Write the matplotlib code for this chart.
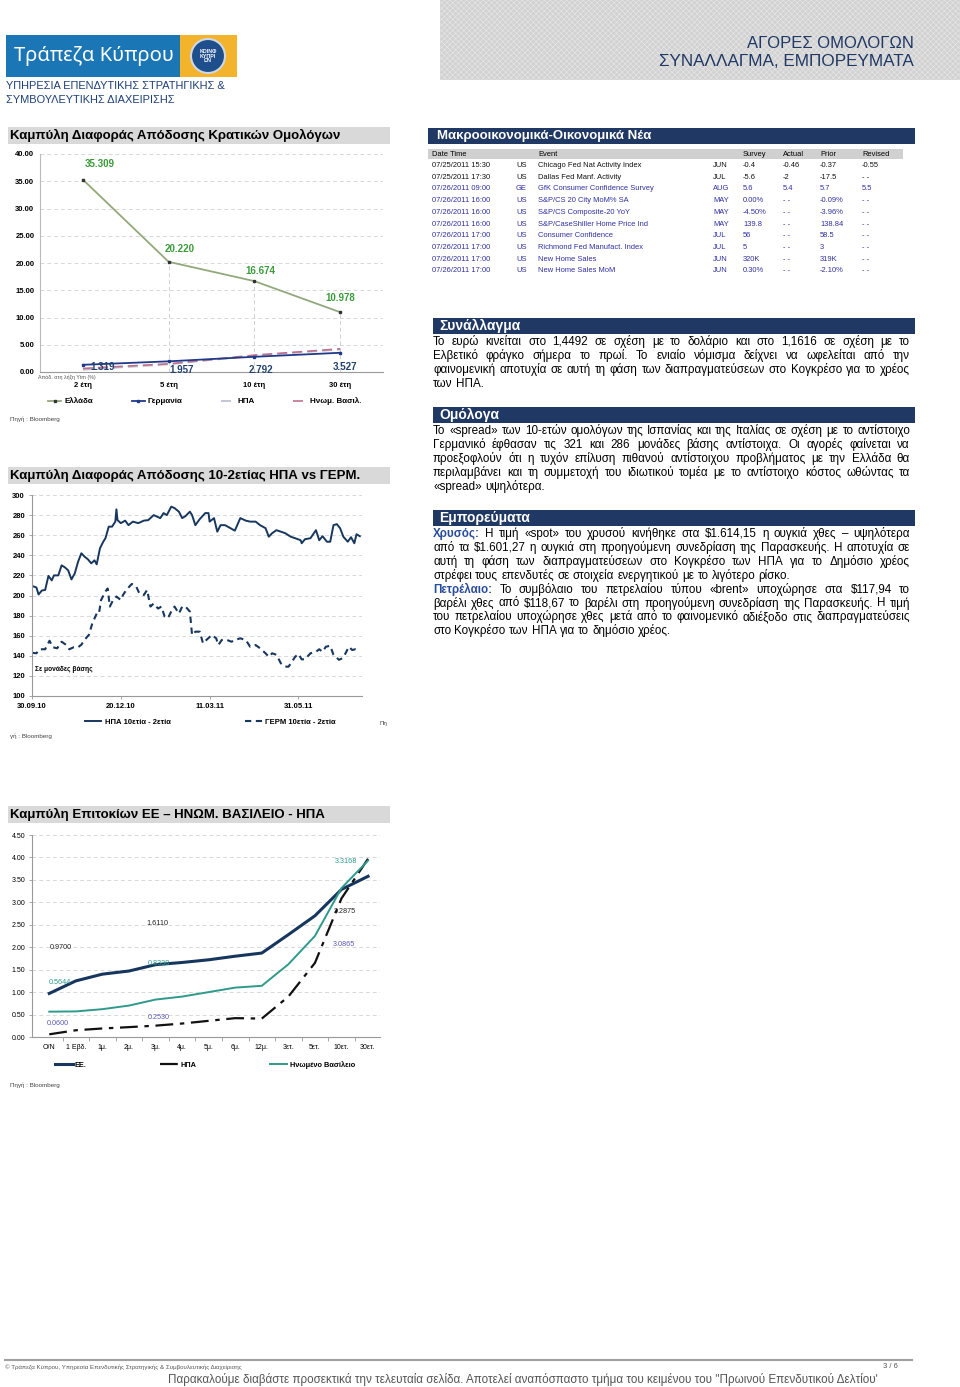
import numpy as np
import pandas as pd
import matplotlib
matplotlib.use("Agg")
import matplotlib.pyplot as plt
from matplotlib.patches import Rectangle, Circle

plt.rcParams['font.family'] = ['Liberation Sans', 'DejaVu Sans']
plt.rcParams['hatch.linewidth'] = 0.4

# ---- chart 1: yield curves of government bonds ----
yc_tenors = ['2 έτη', '5 έτη', '10 έτη', '30 έτη']
gr_ytm = [35.309, 20.220, 16.674, 10.978]
de_ytm = [1.319, 1.957, 2.792, 3.527]
us_ytm = [0.40, 1.40, 2.98, 4.12]
uk_ytm = [0.65, 1.50, 3.10, 4.25]

# ---- chart 2: 10y-2y spread (bp), days since 30.09.10 ----
spread_start = '2010-09-30'
spread_end = '2011-07-28'
spread_ticks = ['30.09.10', '20.12.10', '11.03.11', '31.05.11']
us_days = [0, 4, 6, 9, 12, 15, 18, 20, 24, 27, 30, 33, 36, 39, 42, 45, 48, 51, 54, 57,
           59, 62, 65, 67, 70, 73, 76, 77, 78, 81, 85, 88, 92, 97, 102, 106, 111, 114, 117, 120,
           123, 127, 130, 134, 137, 140, 144, 146, 149, 153, 158, 161, 162, 166, 169, 172, 176, 181, 185, 190,
           195, 199, 204, 208, 213, 216, 219, 223, 227, 231, 236, 240, 245, 246, 249, 254, 259, 262, 265, 269,
           272, 275, 278, 281, 284, 288, 291, 294, 296, 299]
us_spread = [209.5, 208, 201, 205, 205.5, 219.5, 215, 220, 220, 230, 228, 225, 216, 222, 233.5, 242, 238.6, 236, 232, 235,
             231, 247, 253.5, 257, 268.5, 268.5, 273.5, 285.7, 275, 272, 274.5, 270, 273.5, 272, 274.5, 275, 280, 278.5, 277, 282,
             280, 288.4, 287, 283.4, 277, 279, 283.4, 280, 270, 276, 282, 282, 273.5, 277, 263.5, 270, 270, 267, 264.5, 277,
             274.5, 273.5, 273.5, 270, 267, 258.5, 262, 265, 263.5, 262, 258.5, 257, 255, 252, 256, 257, 265, 255, 259, 253.5,
             253.5, 270, 271, 267, 258.5, 253.5, 258, 252, 261, 259]
de_days = [0, 4, 7, 12, 16, 19, 23, 27, 31, 34, 38, 42, 45, 48, 52, 55, 59, 61, 63, 67,
           69, 71, 74, 77, 81, 83, 86, 91, 95, 98, 102, 105, 108, 111, 115, 118, 121, 124, 127, 130,
           134, 137, 140, 144, 146, 149, 153, 156, 159, 164, 168, 170, 173, 178, 182, 185, 190, 195, 199, 204,
           208, 213, 216, 219, 223, 227, 231, 234, 237, 240, 243, 246, 249, 254, 259, 262, 265, 268, 272, 275,
           280, 283, 286, 289, 292, 295, 299]
de_spread = [143, 142.5, 146.5, 146.5, 155, 148.5, 147.5, 154, 151, 146.5, 148.5, 148.5, 151, 156, 161, 172.3, 182, 181.5, 195.5, 204,
             207, 189, 195.5, 199, 195.5, 200.5, 205.5, 211.5, 209, 202, 200.5, 205.5, 189, 192, 187, 189, 179, 177.5, 184, 189,
             182, 189, 189, 184, 160.7, 164, 164, 152.4, 155.7, 160.7, 157.4, 150.7, 155.7, 155.7, 154, 155.7, 157.4, 155.7, 149, 150.7,
             147.5, 142.5, 139, 142.5, 141, 132.5, 129.2, 129.2, 134, 139, 141.8, 136.5, 136.5, 142.5, 144, 146.5, 144, 149, 150, 141,
             136, 137.5, 142.5, 149, 145.8, 146.5, 145]

# ---- chart 3: rate curves EU / UK / US ----
rc_tenors = ['O/N', '1 Εβδ.', '1μ.', '2μ.', '3μ.', '4μ.', '5μ.', '6μ.', '12μ.', '3ετ.', '5ετ.', '10ετ.', '30ετ.']
eu_rate = [0.9700, 1.25, 1.40, 1.47, 1.6110, 1.66, 1.72, 1.80, 1.87, 2.28, 2.70, 3.2875, 3.58]
us_rate = [0.0600, 0.15, 0.19, 0.22, 0.2530, 0.30, 0.36, 0.42, 0.41, 0.90, 1.65, 3.0865, 3.97]
uk_rate = [0.5644, 0.57, 0.62, 0.70, 0.8338, 0.90, 1.00, 1.10, 1.14, 1.62, 2.25, 3.3168, 3.93]
rc_labelled = [0, 4, 11]

# ---- economic calendar ----
cal_header = ['Date Time', '', 'Event', '', 'Survey', 'Actual', 'Prior', 'Revised']
cal_time = ['07/25/2011 15:30', '07/25/2011 17:30', '07/26/2011 09:00', '07/26/2011 16:00', '07/26/2011 16:00',
            '07/26/2011 16:00', '07/26/2011 17:00', '07/26/2011 17:00', '07/26/2011 17:00', '07/26/2011 17:00']
cal_ctry = ['US', 'US', 'GE', 'US', 'US', 'US', 'US', 'US', 'US', 'US']
cal_event = ['Chicago Fed Nat Activity Index', 'Dallas Fed Manf. Activity', 'GfK Consumer Confidence Survey',
             'S&P/CS 20 City MoM% SA', 'S&P/CS Composite-20 YoY', 'S&P/CaseShiller Home Price Ind',
             'Consumer Confidence', 'Richmond Fed Manufact. Index', 'New Home Sales', 'New Home Sales MoM']
cal_period = ['JUN', 'JUL', 'AUG', 'MAY', 'MAY', 'MAY', 'JUL', 'JUL', 'JUN', 'JUN']
cal_survey = ['-0.4', '-5.6', '5.6', '0.00%', '-4.50%', '139.8', '56', '5', '320K', '0.30%']
cal_actual = ['-0.46', '-2', '5.4', '- -', '- -', '- -', '- -', '- -', '- -', '- -']
cal_prior = ['-0.37', '-17.5', '5.7', '-0.09%', '-3.96%', '138.84', '58.5', '3', '319K', '-2.10%']
cal_revised = ['-0.55', '- -', '5.5', '- -', '- -', '- -', '- -', '- -', '- -', '- -']

# ---- commentary (paragraphs as printed lines) ----
fx_title = 'Συνάλλαγμα'
fx_text = [['Το ευρώ κινείται στο 1,4492 σε σχέση με το δολάριο και στο 1,1616 σε σχέση με το',
            'Ελβετικό φράγκο σήμερα το πρωί. Το ενιαίο νόμισμα δείχνει να ωφελείται από την',
            'φαινομενική αποτυχία σε αυτή τη φάση των διαπραγματεύσεων στο Κογκρέσο για το χρέος',
            'των ΗΠΑ.']]
bond_title = 'Ομόλογα'
bond_text = [['Το «spread» των 10-ετών ομολόγων της Ισπανίας και της Ιταλίας σε σχέση με το αντίστοιχο',
              'Γερμανικό έφθασαν τις 321 και 286 μονάδες βάσης αντίστοιχα. Οι αγορές φαίνεται να',
              'προεξοφλούν ότι η τυχόν επίλυση πιθανού αντίστοιχου προβλήματος με την Ελλάδα θα',
              'περιλαμβάνει και τη συμμετοχή του ιδιωτικού τομέα με το αντίστοιχο κόστος ωθώντας τα',
              '«spread» υψηλότερα.']]
comm_title = 'Εμπορεύματα'
comm_text = [['Χρυσός: Η τιμή «spot» του χρυσού κινήθηκε στα $1.614,15 η ουγκιά χθες – υψηλότερα',
              'από τα $1.601,27 η ουγκιά στη προηγούμενη συνεδρίαση της Παρασκευής. Η αποτυχία σε',
              'αυτή τη φάση των διαπραγματεύσεων στο Κογκρέσο των ΗΠΑ για το Δημόσιο χρέος',
              'στρέφει τους επενδυτές σε στοιχεία ενεργητικού με το λιγότερο ρίσκο.'],
             ['Πετρέλαιο: Το συμβόλαιο του πετρελαίου τύπου «brent» υποχώρησε στα $117,94 το',
              'βαρέλι χθες από $118,67 το βαρέλι στη προηγούμενη συνεδρίαση της Παρασκευής. Η τιμή',
              'του πετρελαίου υποχώρησε χθες μετά από το φαινομενικό αδιέξοδο στις διαπραγματεύσεις',
              'στο Κογκρέσο των ΗΠΑ για το δημόσιο χρέος.']]
highlight = ['Χρυσός:', 'Πετρέλαιο:']

W, H = 960, 1387
NAVY = '#1f3864'

fig = plt.figure(figsize=(W / 100, H / 100), dpi=100)
page = fig.add_axes([0, 0, 1, 1])
page.set_xlim(0, W)
page.set_ylim(H, 0)
page.axis('off')


def px_axes(x0, y0, x1, y1):
    return fig.add_axes([x0 / W, 1 - y1 / H, (x1 - x0) / W, (y1 - y0) / H])


# header / logo
page.add_patch(Rectangle((440, 0), 520, 80, facecolor='#d2d2d2', edgecolor='#e8e8e8', hatch='xxxxxx', lw=0))
page.text(914, 43, 'ΑΓΟΡΕΣ ΟΜΟΛΟΓΩΝ', ha='right', va='center', fontsize=12, color=NAVY, weight='medium')
page.text(914, 62, 'ΣΥΝΑΛΛΑΓΜΑ, ΕΜΠΟΡΕΥΜΑΤΑ', ha='right', va='center', fontsize=12.3, color=NAVY, weight='medium')
page.add_patch(Rectangle((6, 35), 174, 42, facecolor='#1b76b5', lw=0))
page.add_patch(Rectangle((180, 35), 57, 42, facecolor='#f3b32a', lw=0))
page.add_patch(Circle((208, 56), 17, facecolor='#1f4e8c', edgecolor='#cfd8e6', lw=1.5))
page.text(208, 56, 'ΚΟΙΝΦ\nΚΥΠΡΙ\nΩΝ', ha='center', va='center', fontsize=3.8, color='white',
          weight='bold', linespacing=0.95)
page.text(14, 56, 'Τράπεζα Κύπρου', ha='left', va='center', fontsize=14.5, color='white', family=['Noto Sans'])
page.text(6, 86, 'ΥΠΗΡΕΣΙΑ ΕΠΕΝΔΥΤΙΚΗΣ ΣΤΡΑΤΗΓΙΚΗΣ &', ha='left', va='center', fontsize=7.9, color='#1d3f77')
page.text(6, 100, 'ΣΥΜΒΟΥΛΕΥΤΙΚΗΣ ΔΙΑΧΕΙΡΙΣΗΣ', ha='left', va='center', fontsize=7.9, color='#1d3f77')

# chart title bands
for y0, title in [(127, 'Καμπύλη Διαφοράς Απόδοσης Κρατικών Ομολόγων'),
                  (467, 'Καμπύλη Διαφοράς Απόδοσης 10-2ετίας ΗΠΑ vs ΓΕΡΜ.'),
                  (806, 'Καμπύλη Επιτοκίων ΕΕ – ΗΝΩΜ. ΒΑΣΙΛΕΙΟ - ΗΠΑ')]:
    page.add_patch(Rectangle((8, y0), 382, 16.5, facecolor='#d9d9d9', lw=0))
    page.text(10, y0 + 8.5, title, ha='left', va='center', fontsize=9.5, weight='bold')

page.text(10, 419, 'Πηγή : Bloomberg', fontsize=4.5, color='#444', va='center')
page.text(380, 724, 'Πη', fontsize=4.5, color='#444', va='center')
page.text(10, 736, 'γή : Bloomberg', fontsize=4.5, color='#444', va='center')
page.text(10, 1085, 'Πηγή : Bloomberg', fontsize=4.5, color='#444', va='center')

# ---- chart 1 ----
ax1 = px_axes(40, 154, 383, 372)
x1 = np.arange(len(yc_tenors))
ax1.vlines(x1[1:], 0, gr_ytm[1:], colors='#d0d0d0', linestyles=(0, (4, 3)), lw=0.7, zorder=1)
ax1.plot(x1, gr_ytm, color='#93a97c', lw=1.3, marker='s', ms=2, mfc='#333', mec='#333', label='Ελλάδα', zorder=3)
ax1.plot(x1, de_ytm, color='#1f3a8a', lw=1.3, marker='s', ms=2, mfc='#1f3a8a', mec='#1f3a8a', label='Γερμανία', zorder=3)
ax1.plot(x1, us_ytm, color='#b8bccc', lw=1.2, ls=(0, (6, 3)), label='ΗΠΑ', zorder=2)
ax1.plot(x1, uk_ytm, color='#c0708c', lw=1.2, ls=(0, (6, 3)), label='Ηνωμ. Βασιλ.', zorder=2)
gr_offsets = [(12, 11), (8, 9.5), (4.5, 7.5), (0, 10)]
de_offsets = [(14, -1.5), (9, -6.5), (4.5, -9.5), (3.5, -10)]
for xi, v, off in zip(x1, gr_ytm, gr_offsets):
    ax1.annotate(f'{v:.3f}', (xi, v), xytext=off, textcoords='offset points', ha='center', va='center',
                 fontsize=7, weight='bold', color='#3a9a3a')
for xi, v, off in zip(x1, de_ytm, de_offsets):
    ax1.annotate(f'{v:.3f}', (xi, v), xytext=off, textcoords='offset points', ha='center', va='center',
                 fontsize=7, weight='bold', color='#22426e')
ax1.set_xlim(-0.5, 3.5)
ax1.set_ylim(0, 40)
ax1.set_yticks(np.arange(0, 41, 5))
ax1.yaxis.set_major_formatter(matplotlib.ticker.FormatStrFormatter('%.2f'))
ax1.set_xticks(x1, yc_tenors)
ax1.tick_params(axis='both', labelsize=5.5, length=0, pad=4)
for lab in ax1.get_xticklabels() + ax1.get_yticklabels():
    lab.set_fontweight('bold')
ax1.tick_params(axis='x', pad=7)
ax1.yaxis.grid(True, ls=(0, (4, 3)), color='#d8d8d8', lw=0.7)
ax1.set_axisbelow(True)
for s in ['top', 'right']:
    ax1.spines[s].set_visible(False)
ax1.spines['left'].set_color('#bbbbbb')
ax1.spines['bottom'].set_color('#999999')
ax1.patch.set_alpha(0)
ax1.text(-0.005, -0.013, 'Απόδ. στη λήξη Ytm (%)', transform=ax1.transAxes, fontsize=3.8, color='#555', va='top')
leg1 = ax1.legend(loc='center', bbox_to_anchor=(0.48, -0.135), ncol=4, frameon=False, fontsize=5.8,
                  handlelength=1.6, columnspacing=4.8, handletextpad=0.4)
for t in leg1.get_texts():
    t.set_fontweight('bold')

# ---- chart 2 ----
ax2 = px_axes(32, 495, 362, 696)
base = pd.Timestamp(spread_start)
us_dates = base + pd.to_timedelta(us_days, unit='D')
de_dates = base + pd.to_timedelta(de_days, unit='D')
ax2.plot(us_dates, us_spread, color='#17375e', lw=1.4, label='ΗΠΑ 10ετία - 2ετία')
ax2.plot(de_dates, de_spread, color='#17375e', lw=1.5, ls=(0, (3, 2.2)), label='ΓΕΡΜ 10ετία - 2ετία')
ax2.set_xlim(base, pd.Timestamp(spread_end))
ax2.set_ylim(100, 300)
ax2.set_yticks(np.arange(100, 301, 20))
ax2.set_xticks(pd.to_datetime(spread_ticks, format='%d.%m.%y'), spread_ticks)
ax2.tick_params(axis='both', labelsize=5.5, length=2, width=0.6, color='#999', pad=3)
for lab in ax2.get_xticklabels() + ax2.get_yticklabels():
    lab.set_fontweight('bold')
ax2.yaxis.grid(True, ls=(0, (4, 3)), color='#d8d8d8', lw=0.7)
ax2.set_axisbelow(True)
for s in ['top', 'right']:
    ax2.spines[s].set_visible(False)
ax2.spines['left'].set_color('#999999')
ax2.spines['bottom'].set_color('#999999')
ax2.patch.set_alpha(0)
ax2.text(0.01, 0.13, 'Σε μονάδες βάσης', transform=ax2.transAxes, fontsize=4.8, weight='bold', va='center')
leg2 = ax2.legend(loc='center', bbox_to_anchor=(0.54, -0.13), ncol=2, frameon=False, fontsize=5.5,
                  handlelength=2.2, columnspacing=9.8, handletextpad=0.4)
for t in leg2.get_texts():
    t.set_fontweight('bold')

# ---- chart 3 ----
ax3 = px_axes(32, 835, 380, 1037)
x3 = np.arange(len(rc_tenors))
ax3.plot(x3, eu_rate, color='#17365d', lw=2.2, label='ΕΕ.')
ax3.plot(x3, us_rate, color='#111111', lw=1.6, ls=(0, (8, 3, 2, 3)), label='ΗΠΑ')
ax3.plot(x3, uk_rate, color='#2e9a8c', lw=1.4, label='Ηνωμένο Βασίλειο')
label_styles = [(eu_rate, '#222222', [(8, 33), (1, 30), (2.5, -16)]),
                (uk_rate, '#2e9a8c', [(8, 21), (2.5, 26), (3, 19)]),
                (us_rate, '#5a5ab4', [(6, 8), (2.5, 6), (2, -33)])]
for series, col, offs in label_styles:
    for idx, off in zip(rc_labelled, offs):
        ax3.annotate(f'{series[idx]:.4f}', (idx, series[idx]), xytext=off, textcoords='offset points',
                     ha='center', va='center', fontsize=5.2, color=col)
ax3.set_xlim(-0.65, 12.45)
ax3.set_ylim(0, 4.5)
ax3.set_yticks(np.arange(0, 4.51, 0.5))
ax3.yaxis.set_major_formatter(matplotlib.ticker.FormatStrFormatter('%.2f'))
ax3.set_xticks(x3, rc_tenors)
ax3.set_xticks(x3[:-1] + 0.5, minor=True)
ax3.tick_params(axis='both', which='major', labelsize=5, length=0, pad=5)
ax3.tick_params(axis='y', which='major', length=2, width=0.6, color='#999', pad=3)
ax3.tick_params(axis='x', which='minor', length=3, width=0.6, color='#999')
ax3.yaxis.grid(True, ls=(0, (4, 3)), color='#d8d8d8', lw=0.7)
ax3.set_axisbelow(True)
for s in ['top', 'right']:
    ax3.spines[s].set_visible(False)
ax3.spines['left'].set_color('#999999')
ax3.spines['bottom'].set_color('#999999')
ax3.patch.set_alpha(0)
leg3 = ax3.legend(loc='center', bbox_to_anchor=(0.497, -0.138), ncol=3, frameon=False, fontsize=5.3,
                  handlelength=2.4, columnspacing=10, handletextpad=0.3)
for t in leg3.get_texts():
    t.set_fontweight('bold')

# ---- macro news calendar ----
page.add_patch(Rectangle((428, 128), 487, 15.5, facecolor=NAVY, lw=0))
page.text(437, 136, 'Μακροοικονομικά-Οικονομικά Νέα', color='white', fontsize=9.5, weight='bold', va='center')
page.add_patch(Rectangle((428, 148.5), 475, 10.5, facecolor='#d0d0d0', lw=0))
col_x = [432, 516, 538, 713, 743, 783, 820, 862]
for cx, h in zip(col_x, cal_header):
    page.text(cx, 154, h, fontsize=5.4, va='center')
cols = [cal_time, cal_ctry, cal_event, cal_period, cal_survey, cal_actual, cal_prior, cal_revised]
for i in range(len(cal_time)):
    color = '#111111' if i < 2 else '#2f2fa0'
    for cx, col in zip(col_x, cols):
        page.text(cx, 165.5 + i * 11.7, col[i], fontsize=5.4, va='center', color=color)

# ---- commentary sections ----
renderer = fig.canvas.get_renderer()


def text_block(paragraphs, x0, x1, y0, dy, size):
    row = 0
    for para in paragraphs:
        for j, line in enumerate(para):
            y = y0 + row * dy
            words = line.split(' ')
            arts = []
            for w in words:
                hl = w in highlight
                arts.append(page.text(0, y, w, fontsize=size, va='baseline',
                                      color='#2a4d9b' if hl else '#000000',
                                      weight='bold' if hl else 'normal'))
            widths = [a.get_window_extent(renderer).width for a in arts]
            natural = size * 100 / 72 * 0.28
            last = j == len(para) - 1
            gap = natural if last or len(words) < 2 else (x1 - x0 - sum(widths)) / (len(words) - 1)
            gap = max(gap, 2)
            xx = x0
            for a, wd in zip(arts, widths):
                a.set_x(xx)
                xx += wd + gap
            row += 1


for band_y, title, paras, dy in [(318, fx_title, fx_text, 14), (407, bond_title, bond_text, 14),
                                 (510, comm_title, comm_text, 13.9)]:
    page.add_patch(Rectangle((433, band_y), 482, 15.5, facecolor=NAVY, lw=0))
    page.text(439, band_y + 8, title, color='white', fontsize=10, weight='bold', va='center')
    text_block(paras, 433, 910, band_y + 27, dy, 8.4)

# ---- footer ----
page.plot([5, 912], [1360, 1360], color='#a0a0a0', lw=1.5)
page.text(5, 1367, '© Τράπεζα Κύπρου, Υπηρεσία Επενδυτικής Στρατηγικής & Συμβουλευτικής Διαχείρισης',
          fontsize=4.4, color='#555', va='center')
page.text(898, 1367, '3 / 6', fontsize=5.5, color='#555', va='center', ha='right')
page.text(878, 1380, "Παρακαλούμε διαβάστε προσεκτικά την τελευταία σελίδα. Αποτελεί αναπόσπαστο τμήμα του "
          "κειμένου του ''Πρωινού Επενδυτικού Δελτίου'", fontsize=8.4, color='#555', va='center', ha='right')

fig.savefig('out.png', dpi=100)
